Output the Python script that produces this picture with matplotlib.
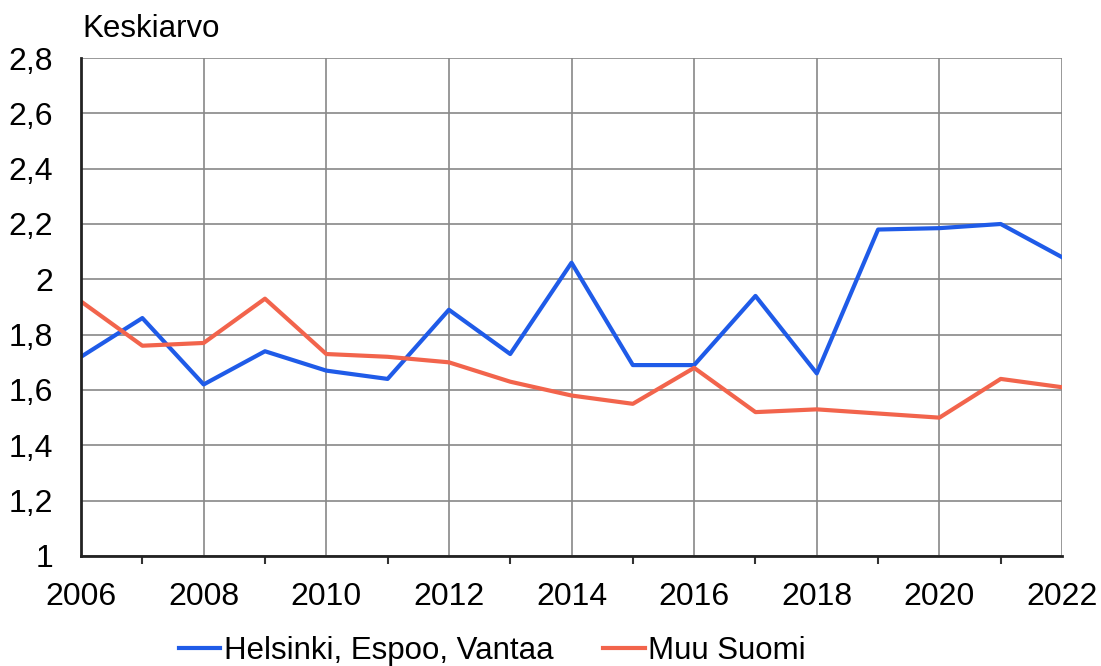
import numpy as np
import matplotlib.pyplot as plt
from matplotlib.ticker import FixedLocator, FuncFormatter

plt.rcParams['font.family'] = ['Liberation Sans', 'DejaVu Sans']

vuodet = list(range(2006, 2023))
helsinki = [1.72, 1.86, 1.62, 1.74, 1.67, 1.64, 1.89, 1.73, 2.06, 1.69, 1.69,
            1.94, 1.66, 2.18, 2.185, 2.20, 2.08]
muu_suomi = [1.92, 1.76, 1.77, 1.93, 1.73, 1.72, 1.70, 1.63, 1.58, 1.55, 1.68,
             1.52, 1.53, 1.515, 1.50, 1.64, 1.61]

fig = plt.figure(figsize=(11.01, 6.66), dpi=100)
ax = fig.add_axes([0.0736, 0.1652, 0.891, 0.7477])

ax.plot(vuodet, helsinki, color='#1f5be8', linewidth=3, label='Helsinki, Espoo, Vantaa')
ax.plot(vuodet, muu_suomi, color='#f2644c', linewidth=3, label='Muu Suomi')

ax.set_xlim(2006, 2022)
ax.set_ylim(1.0, 2.8)
ax.set_xticks(range(2006, 2023, 2))
ax.xaxis.set_minor_locator(FixedLocator(range(2007, 2022, 2)))
ax.set_yticks(np.arange(1.0, 2.81, 0.2))

def pilkku(v, pos):
    s = f'{v:.1f}'.rstrip('0').rstrip('.')
    return s.replace('.', ',')

ax.yaxis.set_major_formatter(FuncFormatter(pilkku))
ax.tick_params(axis='x', which='major', length=0, pad=19, labelsize=23)
ax.tick_params(axis='x', which='minor', length=6, width=1.5, color='#333333')
ax.tick_params(axis='y', length=0, pad=20, labelsize=23)

ax.grid(True, color='#888888', linewidth=1.2)
ax.set_axisbelow(True)
for s in ['top', 'right']:
    ax.spines[s].set_visible(False)
for s in ['left', 'bottom']:
    ax.spines[s].set_linewidth(2)
    ax.spines[s].set_color('#222222')

fig.text(0.0745, 0.956, 'Keskiarvo', fontsize=22.5, va='center', ha='left')

fig.legend(loc='center', bbox_to_anchor=(0.447, 0.022), ncol=2, frameon=False,
           fontsize=22.5, handlelength=1.34, handletextpad=0.1, columnspacing=1.6)

fig.savefig('out.png', dpi=100)
